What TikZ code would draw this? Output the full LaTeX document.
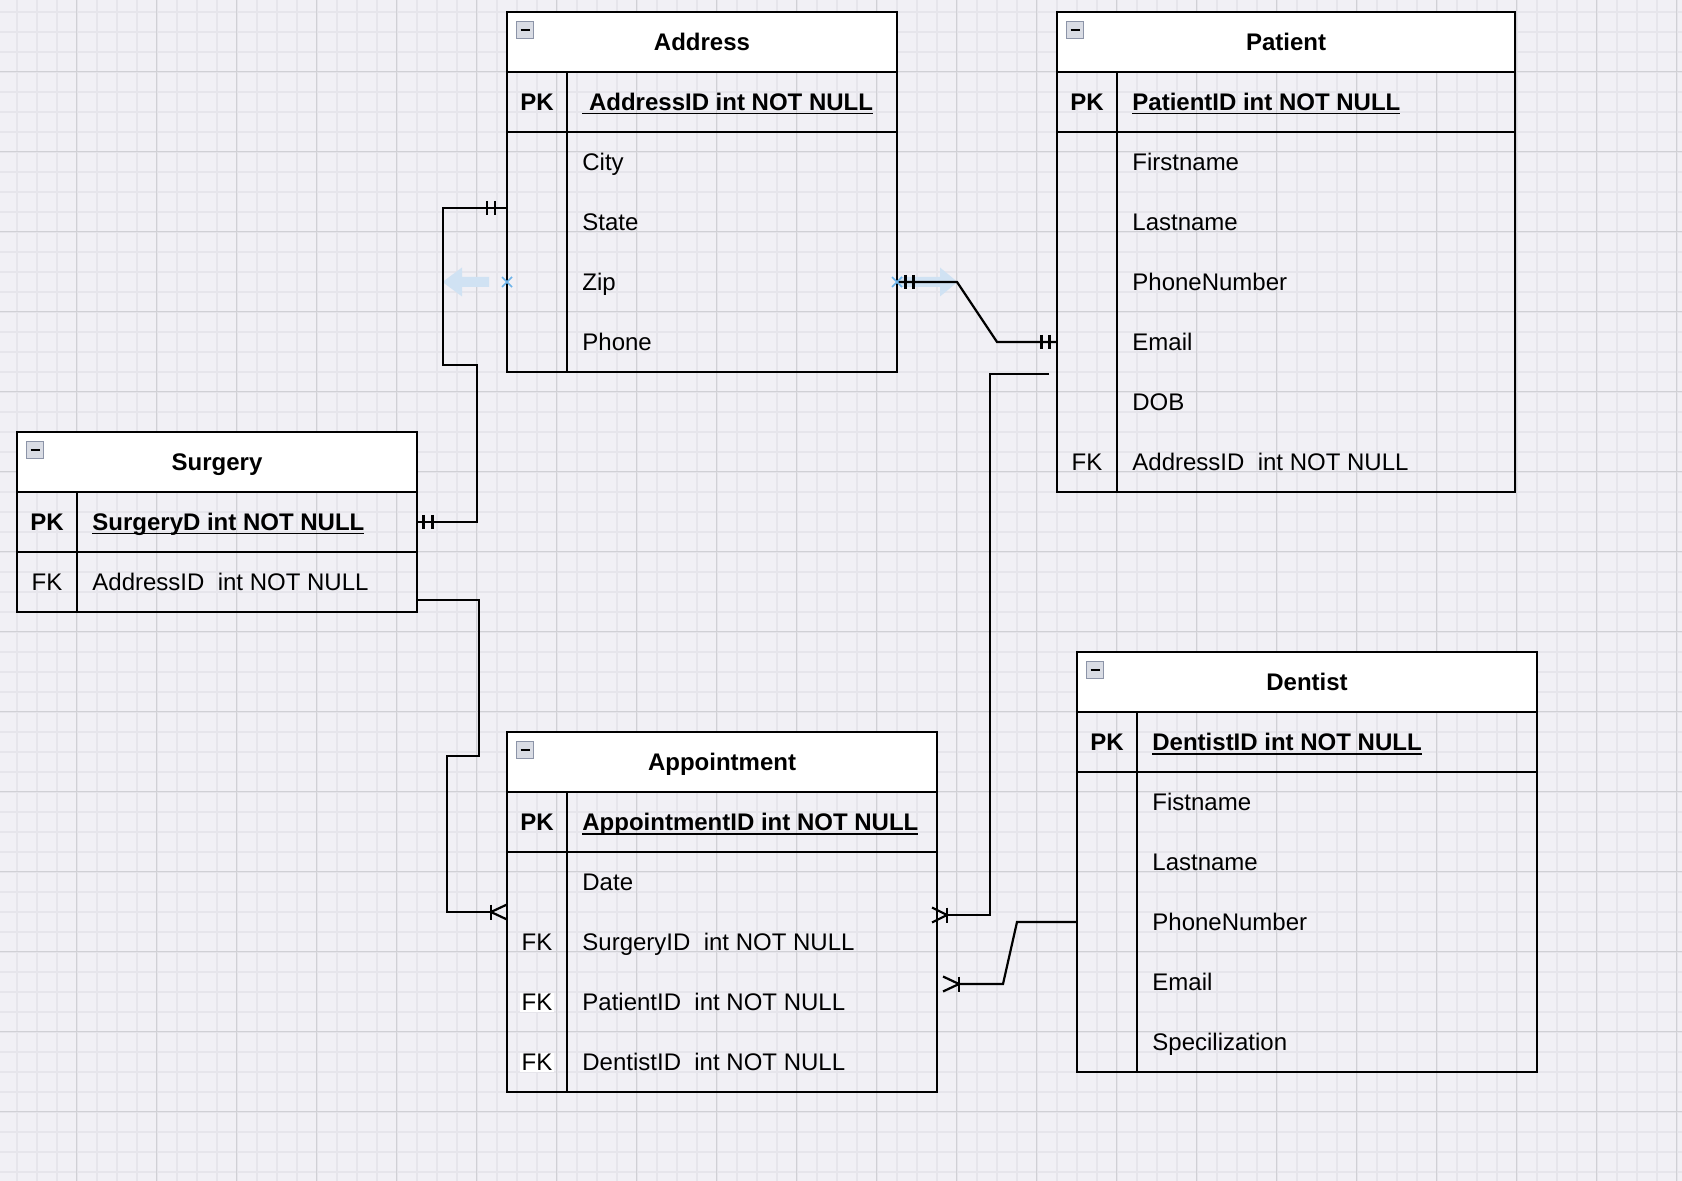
\documentclass[tikz,border=0pt]{standalone}
\usepackage{fontspec}
\setmainfont{Liberation Sans}
\usetikzlibrary{calc}
\definecolor{bgc}{HTML}{F1F0F5}
\definecolor{gminor}{HTML}{E6E5EB}
\definecolor{gmajor}{HTML}{D0D0D5}
\definecolor{hintblue}{HTML}{D0E2F3}
\definecolor{xblue}{HTML}{6DB3EA}
\definecolor{iconfill}{HTML}{D9DCE4}
\definecolor{iconedge}{HTML}{8C94A8}

\newcommand{\fixul}[1]{\setbox0\hbox{#1}\rlap{\rule[-2pt]{\wd0}{0.6pt}}\box0}

\tikzset{
 frame/.style={draw=black, line width=1.15pt},
 conn/.style={draw=black, line width=1.1pt},
 hdrbox/.style={draw=black, fill=white, line width=1.15pt, rectangle, anchor=north west, minimum height=30pt, inner sep=0pt, outer sep=0pt},
 rowbox/.style={rectangle, anchor=north west, minimum height=30pt, inner sep=0pt, outer sep=0pt},
 titletxt/.style={font=\fontsize{12pt}{14pt}\selectfont\bfseries, anchor=base, inner sep=0pt},
 keytxt/.style={font=\fontsize{12pt}{14pt}\selectfont, anchor=base, inner sep=0pt},
 pkkey/.style={keytxt, font=\fontsize{12pt}{14pt}\selectfont\bfseries},
 fldtxt/.style={font=\fontsize{12pt}{14pt}\selectfont, anchor=base west, inner sep=0pt},
 pkfld/.style={fldtxt, font=\fontsize{12pt}{14pt}\selectfont\bfseries},
 iconbox/.style={rectangle, draw=iconedge, fill=iconfill, line width=0.7pt, minimum size=8.3pt, inner sep=0pt},
 gridminor/.style={draw=gminor, line width=0.9pt},
 gridmajor/.style={draw=gmajor, line width=0.5pt},
 hint/.style={fill=hintblue, draw=none},
 xmark/.style={draw=xblue, line width=0.8pt},
}

\newcommand{\erhead}[5]{%
  \node[hdrbox, minimum width=#4*0.5pt] (#1) at (#2,#3) {};
  \node[titletxt] (#1-t) at ($(#1.center)+(0,8.5)$) {#5};
  \node[iconbox] (#1-i) at ($(#1.north west)+(18,18)$) {};
  \draw[line width=1pt] ($(#1-i.center)+(-4.5,0)$) -- ($(#1-i.center)+(4.5,0)$);
}
\newcommand{\errow}[7][]{%
  \node[rowbox, minimum width=#5*0.5pt] (#2) at (#3,#4) {};
  \node[keytxt,#1] (#2-k) at ($(#2.west)+(30,8.5)$) {#6};
  \node[fldtxt] (#2-f) at ($(#2.west)+(75,8.5)$) {#7};
}
\newcommand{\erpkrow}[5]{%
  \node[rowbox, minimum width=#4*0.5pt] (#1) at (#2,#3) {};
  \node[pkkey] (#1-k) at ($(#1.west)+(30,8.5)$) {PK};
  \node[pkfld] (#1-f) at ($(#1.west)+(75,8.5)$) {\fixul{#5}};
}
\newcommand{\erframe}[4]{%
  \draw[frame] (#1,#2) rectangle ++(#3,{60+60*#4});
  \draw[frame] (#1,#2+120) -- ++(#3,0);
  \draw[frame] (#1+60,#2+60) -- ++(0,{60*#4});
}

\begin{document}
\begin{tikzpicture}[x=0.5pt, y=-0.5pt]
\useasboundingbox (0,0) rectangle (1682,1181);
\fill[bgc] (0,0) rectangle (1682,1181);
% grid
\foreach \i in {0,...,83} {\draw[gridminor] ({16.7+20*\i},0) -- ++(0,1181);}
\foreach \i in {0,...,58} {\draw[gridminor] (0,{11.7+20*\i}) -- ++(1682,0);}
\foreach \i in {0,...,20} {\draw[gridmajor] ({76.7+80*\i},0) -- ++(0,1181);}
\foreach \i in {0,...,14} {\draw[gridmajor] (0,{71.7+80*\i}) -- ++(1682,0);}

% ---------- Address ----------
\erhead{addr}{507}{12}{390}{Address}
\erpkrow{apk}{507}{72}{390}{\ AddressID int NOT NULL}
\errow{acity}{507}{132}{390}{}{City}
\errow{astate}{507}{192}{390}{}{State}
\errow{azip}{507}{252}{390}{}{Zip}
\errow{aphone}{507}{312}{390}{}{Phone}
\erframe{507}{12}{390}{5}

% ---------- Patient ----------
\erhead{pat}{1057}{12}{458}{Patient}
\erpkrow{ppk}{1057}{72}{458}{PatientID int NOT NULL}
\errow{pfirst}{1057}{132}{458}{}{Firstname}
\errow{plast}{1057}{192}{458}{}{Lastname}
\errow{pphone}{1057}{252}{458}{}{PhoneNumber}
\errow{pemail}{1057}{312}{458}{}{Email}
\errow{pdob}{1057}{372}{458}{}{DOB}
\errow{paddr}{1057}{432}{458}{FK}{AddressID\ \ int NOT NULL}
\erframe{1057}{12}{458}{7}

% ---------- Surgery ----------
\erhead{surg}{17}{432}{400}{Surgery}
\erpkrow{spk}{17}{492}{400}{SurgeryD int NOT NULL}
\errow{sfk}{17}{552}{400}{FK}{AddressID\ \ int NOT NULL}
\erframe{17}{432}{400}{2}

% ---------- Appointment ----------
\erhead{appt}{507}{732}{430}{Appointment}
\erpkrow{appk}{507}{792}{430}{AppointmentID int NOT NULL}
\errow{adate}{507}{852}{430}{}{Date}
\errow{asurg}{507}{912}{430}{FK}{SurgeryID\ \ int NOT NULL}
\errow[fill=white, inner sep=0.6pt]{apat}{507}{972}{430}{FK}{PatientID\ \ int NOT NULL}
\errow[fill=white, inner sep=0.6pt]{adent}{507}{1032}{430}{FK}{DentistID\ \ int NOT NULL}
\erframe{507}{732}{430}{5}

% ---------- Dentist ----------
\erhead{dent}{1077}{652}{460}{Dentist}
\erpkrow{dpk}{1077}{712}{460}{DentistID int NOT NULL}
\errow{dfirst}{1077}{772}{460}{}{Fistname}
\errow{dlast}{1077}{832}{460}{}{Lastname}
\errow{dphone}{1077}{892}{460}{}{PhoneNumber}
\errow{demail}{1077}{952}{460}{}{Email}
\errow{dspec}{1077}{1012}{460}{}{Specilization}
\erframe{1077}{652}{460}{6}

% ---------- UI hint arrows ----------
\fill[hint] ($(azip.east)+(3,-5)$) -- ++(40,0) -- ++(0,-9.5) -- ++(17.5,14.5) -- ++(-17.5,14.5) -- ++(0,-9.5) -- ++(-40,0) -- cycle;
\fill[hint] ($(azip.west)+(-18,-5)$) -- ++(-27,0) -- ++(0,-9.5) -- ++(-19.5,14.5) -- ++(19.5,14.5) -- ++(0,-9.5) -- ++(27,0) -- cycle;

% ---------- Connectors ----------
% Surgery PK -- Address
\coordinate (c1a) at ($(astate.west)+(0,-14)$);
\draw[conn] (spk.east) -- (477,522) -- (477,365) -- (443,365) -- (443,208) -- (c1a);
\draw[conn] ($(spk.east)+(6.5,-7)$) -- ++(0,14);
\draw[conn] ($(spk.east)+(15.5,-7)$) -- ++(0,14);
\draw[conn] ($(c1a)+(-20,-7)$) -- ++(0,14);
\draw[conn] ($(c1a)+(-12,-7)$) -- ++(0,14);

% Surgery FK -- Appointment
\coordinate (c2a) at ($(sfk.east)+(0,18)$);
\coordinate (c2b) at ($(adate.south west)+(-16,0)$);
\draw[conn] (c2a) -- (479,600) -- (479,756) -- (447,756) -- (447,912) -- (c2b);
\draw[conn] ($(c2b)+(0,-7.5)$) -- ++(0,15);
\draw[conn] ($(adate.south west)+(0,-7.5)$) -- (c2b) -- ($(adate.south west)+(0,7.5)$);

% Patient -- Appointment
\coordinate (c3a) at ($(pdob.north west)+(-8,2)$);
\coordinate (c3b) at ($(asurg.north east)+(10,3)$);
\draw[conn] (c3a) -- (990,374) -- (990,915) -- (c3b);
\draw[conn] ($(c3b)+(0,-7.5)$) -- ++(0,15);
\draw[conn] ($(c3b)+(-15,-7.5)$) -- (c3b) -- ($(c3b)+(-15,7.5)$);

% Dentist -- Appointment
\coordinate (c4b) at ($(apat.north east)+(22,12)$);
\draw[conn] (dphone.west) -- (1017,922) -- (1003,984) -- (c4b);
\draw[conn] ($(c4b)+(0,-7.5)$) -- ++(0,15);
\draw[conn] ($(c4b)+(-16,-7.5)$) -- (c4b) -- ($(c4b)+(-16,7.5)$);

% Address -- Patient
\draw[conn] (azip.east) -- (957,282) -- (997,342) -- (pemail.west);
\draw[conn] ($(azip.east)+(8.5,-7)$) -- ++(0,14);
\draw[conn] ($(azip.east)+(16.5,-7)$) -- ++(0,14);
\draw[conn] ($(pemail.west)+(-15.5,-7)$) -- ++(0,14);
\draw[conn] ($(pemail.west)+(-7.5,-7)$) -- ++(0,14);

% ---------- blue x marks ----------
\draw[xmark] ($(azip.east)+(-5,-5)$) -- ++(10,10) ($(azip.east)+(-5,5)$) -- ++(10,-10);
\draw[xmark] ($(azip.west)+(-5,-5)$) -- ++(10,10) ($(azip.west)+(-5,5)$) -- ++(10,-10);
\end{tikzpicture}
\end{document}
